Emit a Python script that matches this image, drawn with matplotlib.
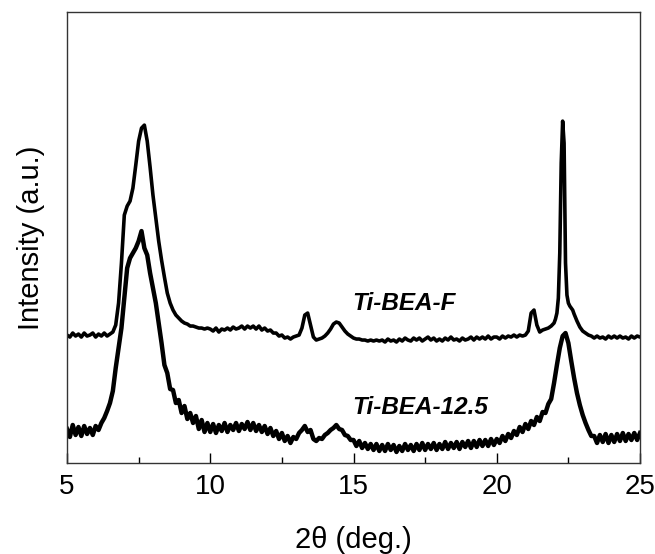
import numpy as np
import matplotlib
matplotlib.use("Agg")
import matplotlib.pyplot as plt

plt.rcParams["font.family"] = ["Liberation Sans", "DejaVu Sans"]

# Ti-BEA-F (upper trace), 2theta grid refined around the 22.3 deg reflection
two_theta_f = np.concatenate([
    np.linspace(5.0, 21.9, 170),
    np.linspace(22.0, 22.65, 14),
    np.linspace(22.7, 25.0, 24),
])
intensity_f = [
    # 5.0 - 6.5
    128, 126, 130, 127, 129, 126, 130, 127, 128, 130, 126, 129, 127, 130, 127, 129,
    # 6.6 - 9.9
    131, 138, 160, 200, 248, 257, 262, 275, 298, 322, 335, 338, 322, 296, 268, 245,
    222, 203, 186, 170, 160, 153, 148, 145, 142, 140, 139, 137, 137, 136, 135, 135,
    134, 135,
    # 10.0 - 12.9
    134, 132, 135, 131, 134, 133, 135, 133, 136, 134, 135, 137, 134, 137, 135, 137,
    134, 137, 133, 135, 132, 133, 130, 130, 127, 128, 125, 126, 124, 126,
    # 13.0 - 15.9
    127, 128, 135, 148, 150, 138, 126, 123, 124, 125, 127, 130, 134, 139, 141, 140,
    136, 132, 129, 127, 125, 124, 124, 123, 123, 122, 123, 122, 123, 122,
    # 16.0 - 21.9
    123, 121, 124, 122, 123, 121, 124, 122, 125, 123,
    122, 125, 123, 125, 122, 124, 126, 123, 125, 122,
    124, 122, 125, 123, 126, 123, 124, 122, 125, 123,
    124, 126, 123, 126, 124, 126, 124, 127, 124, 126,
    126, 124, 127, 125, 127, 126, 128, 126, 128, 127,
    128, 132, 150, 153, 138, 131, 133, 134, 135, 137,
    # 22.0 - 22.65 (0.05 step)
    140, 144, 150, 165, 210, 300, 342, 320, 200, 168, 160, 157, 155, 153,
    # 22.7 - 25.0
    149, 142, 136, 132, 130, 128, 127, 125, 127, 125, 126, 124, 127, 125, 127, 125,
    127, 125, 126, 124, 127, 125, 127, 126,
]

# Ti-BEA-12.5 (lower trace), 0.1 deg step
two_theta_125 = np.linspace(5.0, 25.0, 201)
intensity_125 = [
    34, 26, 38, 28, 36, 27, 37, 29, 35, 28,
    37, 33, 40, 45, 52, 60, 72, 95, 115, 135,
    165, 195, 205, 210, 215, 222, 232, 215, 208, 190,
    175, 160, 140, 120, 98, 90, 74, 73, 60, 63,
    50, 57, 44, 50, 40, 47, 34, 43, 31, 40,
    31, 39, 30, 38, 32, 40, 31, 38, 33, 40,
    32, 39, 34, 41, 33, 40, 32, 38, 31, 37,
    29, 35, 27, 32, 24, 30, 22, 27, 20, 26,
    24, 30, 33, 37, 31, 33, 24, 22, 25, 24,
    28, 30, 33, 35, 38, 34, 33, 28, 27, 23,
    23, 17, 22, 15, 20, 14, 19, 13, 19, 12,
    18, 12, 19, 13, 18, 11, 17, 12, 19, 13,
    18, 12, 19, 13, 20, 13, 19, 14, 20, 13,
    19, 14, 21, 14, 20, 15, 21, 14, 21, 16,
    22, 15, 22, 16, 23, 17, 23, 17, 24, 18,
    24, 20, 27, 22, 29, 25, 32, 28, 36, 31,
    39, 34, 42, 38, 46, 42, 51, 50, 59, 64,
    80, 98, 115, 127, 130, 120, 102, 85, 70, 58,
    48, 40, 33, 27, 27, 20, 28, 21, 29, 20,
    28, 21, 29, 22, 30, 22, 29, 23, 30, 23, 30,
]

labels = ["Ti-BEA-F", "Ti-BEA-12.5"]
label_pos = [(14.95, 160), (14.95, 56)]

fig = plt.figure(figsize=(6.55, 5.54), dpi=100)
ax = fig.add_axes([0.1023, 0.1643, 0.8748, 0.8137])

ax.plot(two_theta_f, intensity_f, color="black", lw=2.6)
ax.plot(two_theta_125, intensity_125, color="black", lw=3.2)

for text, (x, y) in zip(labels, label_pos):
    ax.text(x, y, text, fontsize=17.5, fontweight="bold", fontstyle="italic",
            ha="left", va="center")

ax.set_xlim(5, 25)
ax.set_ylim(0, 451)
ax.set_xticks([5, 10, 15, 20, 25])
ax.set_xticks([7.5, 12.5, 17.5, 22.5], minor=True)
ax.set_yticks([])
ax.tick_params(axis="x", which="major", direction="in", length=7, width=1,
               labelsize=20, pad=8)
ax.tick_params(axis="x", which="minor", direction="in", length=4, width=1)
for side in ax.spines.values():
    side.set_linewidth(1)
    side.set_color("#333333")

ax.set_xlabel("2θ (deg.)", fontsize=21, labelpad=19)
ax.set_ylabel("Intensity (a.u.)", fontsize=21, labelpad=16)

fig.savefig("out.png", dpi=100)
